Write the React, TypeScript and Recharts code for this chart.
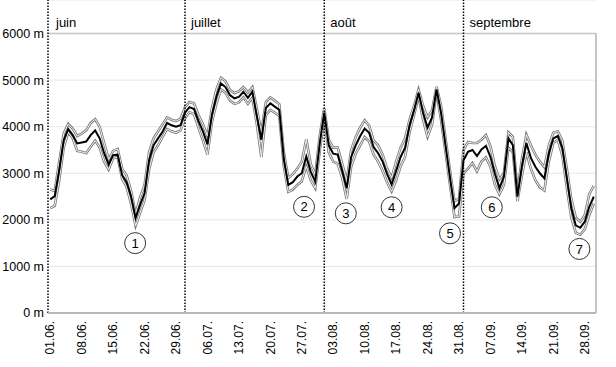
import React from 'react';
import { LineChart, Line, XAxis, YAxis, CartesianGrid, ReferenceLine, ReferenceDot } from 'recharts';

const FONT = '"Liberation Sans", Arial, sans-serif';

const monthNames = ['juin', 'juillet', 'août', 'septembre'];
const monthNums = ['06', '07', '08', '09'];
const monthLengths = [30, 31, 31, 30];
const monthStarts = [-0.5, 30, 61, 92];
const monthLabelDx = [8, 6, 6, 6];

const days: string[] = [];
monthLengths.forEach((len, m) => {
  for (let d = 1; d <= len; d++) days.push(`${String(d).padStart(2, '0')}.${monthNums[m]}.`);
});

const tickIdx = [0, 7, 14, 21, 28, 35, 42, 49, 56, 63, 70, 77, 84, 91, 98, 105, 112, 119];
const yTicks = [0, 1000, 2000, 3000, 4000, 5000, 6000];

// middle (thick black) series
const midJun = [2440, 2510, 3070, 3710, 3950, 3820, 3640, 3660, 3680, 3820, 3920, 3750, 3430, 3190, 3390, 3400, 2960, 2810, 2500, 2040, 2320, 2570, 3280, 3600, 3750, 3890, 4080, 4030, 4000, 4030];
const midJul = [4300, 4420, 4380, 4120, 3900, 3620, 4250, 4650, 4930, 4850, 4680, 4610, 4640, 4750, 4620, 4750, 4220, 3720, 4400, 4500, 4430, 4360, 3300, 2750, 2810, 2930, 3000, 3360, 3030, 2820, 3640];
const midAug = [4300, 3600, 3420, 3400, 3050, 2680, 3350, 3600, 3800, 3960, 3870, 3560, 3430, 3250, 2980, 2760, 3050, 3350, 3550, 4030, 4350, 4730, 4300, 3980, 4200, 4800, 4300, 3600, 2900, 2250, 2350];
const midSep = [3280, 3460, 3500, 3370, 3510, 3590, 3350, 2990, 2680, 2930, 3750, 3600, 2500, 3150, 3650, 3330, 3140, 3000, 2890, 3430, 3750, 3800, 3550, 2900, 2250, 1880, 1830, 1960, 2280, 2500];

// upper thin series
const upJun = [2650, 2620, 3250, 3850, 4060, 3960, 3800, 3850, 3920, 4080, 4160, 4000, 3650, 3300, 3480, 3520, 3100, 2950, 2620, 2130, 2480, 2750, 3450, 3750, 3900, 4050, 4200, 4150, 4120, 4170];
const upJul = [4420, 4530, 4500, 4250, 4050, 3800, 4400, 4800, 5050, 4980, 4790, 4720, 4760, 4850, 4730, 4850, 4380, 3880, 4530, 4630, 4560, 4480, 3450, 2900, 2980, 3100, 3250, 3730, 3200, 2970, 3800];
const upAug = [4400, 3720, 3550, 3550, 3200, 2850, 3500, 3780, 3980, 4140, 4020, 3700, 3600, 3400, 3100, 2900, 3250, 3550, 3750, 4150, 4450, 4800, 4450, 4200, 4350, 4860, 4450, 3750, 3050, 2400, 2450];
const upSep = [3500, 3670, 3650, 3650, 3720, 3820, 3580, 3150, 2870, 3000, 3880, 3780, 2600, 3300, 3830, 3600, 3400, 3250, 3130, 3600, 3870, 3900, 3700, 3100, 2450, 2050, 1960, 2100, 2550, 2730];

// lower thin series
const loJun = [2250, 2300, 2850, 3550, 3880, 3750, 3480, 3460, 3430, 3570, 3700, 3550, 3250, 3080, 3320, 3350, 2880, 2700, 2350, 1870, 2150, 2420, 3080, 3450, 3600, 3780, 3950, 3900, 3870, 3920];
const loJul = [4180, 4310, 4270, 3980, 3700, 3400, 4100, 4500, 4800, 4730, 4560, 4490, 4520, 4630, 4490, 4620, 4050, 3350, 4250, 4360, 4300, 4230, 3150, 2600, 2650, 2750, 2830, 3150, 2850, 2680, 3480];
const loAug = [4200, 3450, 3250, 3200, 2900, 2450, 3150, 3420, 3600, 3780, 3680, 3400, 3250, 3050, 2800, 2610, 2850, 3150, 3350, 3880, 4250, 4650, 4150, 3780, 4050, 4750, 4150, 3450, 2750, 2060, 2070];
const loSep = [3000, 3100, 3220, 3040, 3250, 3340, 3140, 2750, 2550, 2750, 3550, 3450, 2400, 2950, 3450, 3100, 2850, 2700, 2630, 3250, 3650, 3720, 3380, 2700, 2050, 1720, 1680, 1800, 2100, 2350];

const mid = [...midJun, ...midJul, ...midAug, ...midSep];
const up = [...upJun, ...upJul, ...upAug, ...upSep];
const lo = [...loJun, ...loJul, ...loAug, ...loSep];

const markerNums = [1, 2, 3, 4, 5, 6, 7];
const markerX = [18.9, 56.5, 65.8, 76.0, 89.0, 98.3, 117.8];
const markerY = [1500, 2280, 2140, 2270, 1710, 2270, 1375];

const data = days.map((d, i) => ({ i, day: d, mid: mid[i], up: up[i], lo: lo[i] }));

const XTick = (props: any) => {
  const { x, y, payload } = props;
  return (
    <text
      x={x}
      y={y}
      transform={`rotate(-90, ${x}, ${y})`}
      textAnchor="end"
      dy="0.35em"
      fontSize={12}
      fontFamily={FONT}
      fill="#000"
    >
      {days[payload.value]}
    </text>
  );
};

const YTick = (props: any) => {
  const { y, payload } = props;
  return (
    <text x={44} y={y} textAnchor="end" dy="0.355em" fontSize={12.5} fontFamily={FONT} fill="#000">
      {`${payload.value} m`}
    </text>
  );
};

export default function App() {
  return (
    <div style={{ position: 'absolute', left: 0, top: 0, width: 616, height: 367, background: '#fff' }}>
      <LineChart width={616} height={367} data={data} margin={{ top: 0, right: 20, bottom: 0, left: 0 }}>
        <CartesianGrid vertical={false} stroke="#e8e8e8" strokeWidth={1} />
        <XAxis
          type="number"
          dataKey="i"
          domain={[-0.5, 121.5]}
          ticks={tickIdx}
          interval={0}
          allowDataOverflow
          tick={<XTick />}
          tickLine={false}
          axisLine={{ stroke: '#b8b8b8', strokeWidth: 2 }}
          height={54}
        />
        <YAxis
          domain={[0, 6720]}
          ticks={yTicks}
          interval={0}
          allowDataOverflow
          width={48}
          axisLine={false}
          tickLine={false}
          tick={<YTick />}
        />
        <ReferenceLine y={6000} stroke="#c4c4c4" strokeWidth={1.5} />
        <ReferenceLine
          segment={[{ x: 121.5, y: 0 }, { x: 121.5, y: 6000 }]}
          stroke="#c4c4c4"
          strokeWidth={2}
        />
        <Line type="linear" dataKey="up" stroke="#7a7a7a" strokeWidth={2.6} dot={false} isAnimationActive={false} />
        <Line type="linear" dataKey="up" stroke="#ffffff" strokeWidth={0.9} dot={false} isAnimationActive={false} />
        <Line type="linear" dataKey="lo" stroke="#7a7a7a" strokeWidth={2.6} dot={false} isAnimationActive={false} />
        <Line type="linear" dataKey="lo" stroke="#ffffff" strokeWidth={0.9} dot={false} isAnimationActive={false} />
        <Line type="linear" dataKey="mid" stroke="#000" strokeWidth={2} dot={false} isAnimationActive={false} />
        {monthStarts.map((s, k) => (
          <ReferenceLine
            key={monthNames[k]}
            x={s}
            stroke="#000"
            strokeWidth={1.5}
            strokeDasharray="1.5 1.5"
            label={(p: any) => (
              <text x={p.viewBox.x + monthLabelDx[k]} y={27} fontSize={13} fontFamily={FONT} fill="#000">
                {monthNames[k]}
              </text>
            )}
          />
        ))}
        {markerNums.map((n, k) => (
          <ReferenceDot
            key={n}
            x={markerX[k]}
            y={markerY[k]}
            r={10.5}
            fill="#fff"
            stroke="#333"
            strokeWidth={1}
            label={{ value: String(n), position: 'center', fill: '#000', fontSize: 13, fontFamily: FONT }}
          />
        ))}
      </LineChart>
    </div>
  );
}
